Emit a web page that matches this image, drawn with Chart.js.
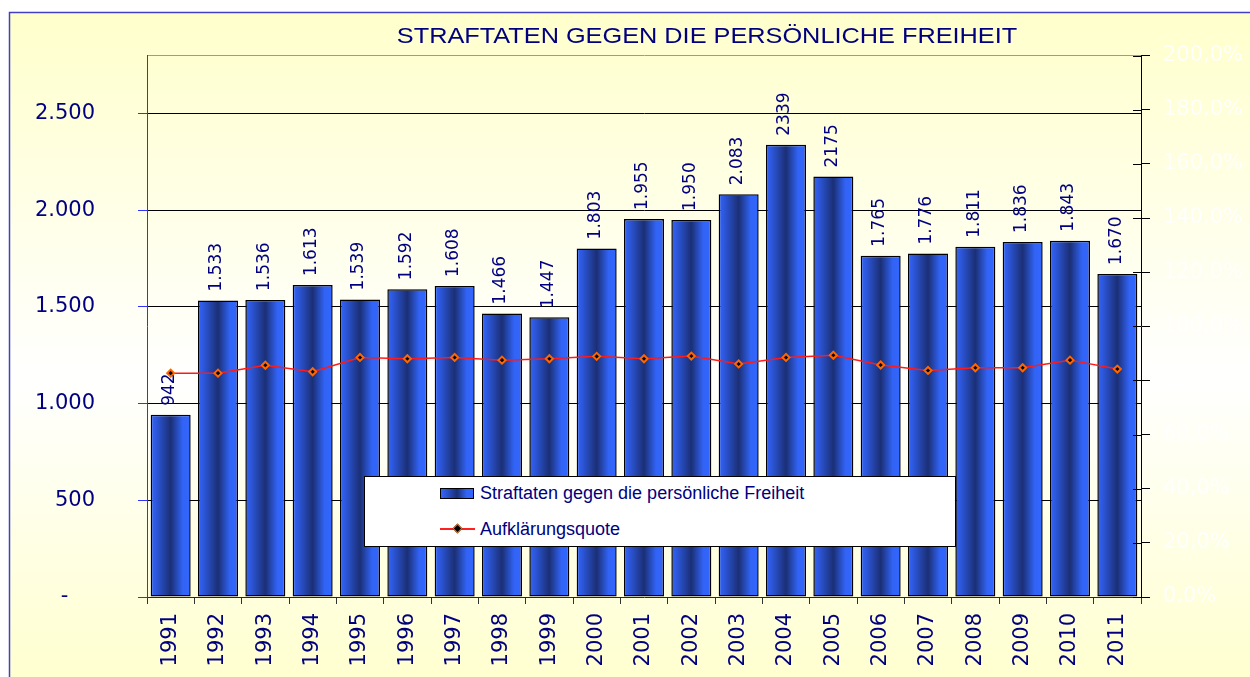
<!DOCTYPE html>
<html>
<head>
<meta charset="utf-8">
<script src="https://cdn.jsdelivr.net/npm/chart.js@4/dist/chart.umd.min.js"></script>
<style>
  body { margin: 0; background: #fff; }
  #wrap { position: relative; width: 1250px; height: 677px; overflow: hidden; }
  #legend {
    position: absolute; left: 364px; top: 476px; width: 590px; height: 69px;
    background: #fff; border: 1px solid #000;
    font-family: "Liberation Sans", Arial, sans-serif; font-size: 18px; color: #000080;
  }
  .item { position: absolute; left: 75px; height: 20px; display: flex; align-items: center; }
  .sw { width: 32px; height: 9px; border: 1px solid #000; margin-right: 6px;
    background: linear-gradient(to right, #3366ff 0%, #2c56d8 15%, #1b2f75 50%, #3163f5 80%, #3366ff 100%); }
  .ln { position: relative; width: 35px; height: 2px; background: #ff2020; margin-right: 5px; }
  .ln i { position: absolute; left: 14px; top: -3px; width: 5px; height: 5px; background: #000;
    border: 1.5px solid #ff6600; transform: rotate(45deg); }
</style>
</head>
<body>
<div id="wrap">
  <canvas id="c" width="1250" height="677"></canvas>
  <div id="legend"></div>
</div>
<script>
const chartTitle = 'STRAFTATEN GEGEN DIE PERSÖNLICHE FREIHEIT';
const seriesNames = ['Straftaten gegen die persönliche Freiheit', 'Aufklärungsquote'];
const years = ['1991','1992','1993','1994','1995','1996','1997','1998','1999','2000',
  '2001','2002','2003','2004','2005','2006','2007','2008','2009','2010','2011'];
const straftaten = [942,1533,1536,1613,1539,1592,1608,1466,1447,1803,
  1955,1950,2083,2339,2175,1765,1776,1811,1836,1843,1670];
const barLabels = ['942','1.533','1.536','1.613','1.539','1.592','1.608','1.466','1.447','1.803',
  '1.955','1.950','2.083','2339','2175','1.765','1.776','1.811','1.836','1.843','1.670'];
const quote = [82.7,82.7,85.6,83.2,88.5,88.0,88.5,87.5,88.0,88.9,
  88.0,89.0,86.1,88.5,89.3,85.7,83.7,84.7,84.7,87.5,84.2];
const leftTicks = [0, 500, 1000, 1500, 2000, 2500, 2800];
const leftTickLabels = ['-    ', '500', '1.000', '1.500', '2.000', '2.500', ''];

const navy = '#000080';
const tickFont = { family: 'DejaVu Sans', size: 21 };

function barGrad(c) {
  const chart = c.chart;
  const x = chart.scales.x;
  if (!chart.chartArea || !x) return '#2c56d8';
  const cx = x.getPixelForValue(c.dataIndex);
  const w = (chart.chartArea.width / years.length) * 0.845;
  const g = chart.ctx.createLinearGradient(cx - w / 2, 0, cx + w / 2, 0);
  g.addColorStop(0, '#3366ff');
  g.addColorStop(0.15, '#2c56d8');
  g.addColorStop(0.5, '#1b2f75');
  g.addColorStop(0.8, '#3163f5');
  g.addColorStop(1, '#3366ff');
  return g;
}

const backdrop = {
  id: 'backdrop',
  beforeDraw(chart) {
    const ctx = chart.ctx;
    ctx.save();
    ctx.fillStyle = '#fff';
    ctx.fillRect(0, 0, chart.width, chart.height);
    const g = ctx.createLinearGradient(0, 12, 0, chart.height);
    g.addColorStop(0, '#ffffcc');
    g.addColorStop(0.55, '#ffffff');
    g.addColorStop(1, '#ffffd0');
    ctx.fillStyle = g;
    ctx.fillRect(9, 12, chart.width, chart.height);
    ctx.strokeStyle = '#4040c0';
    ctx.lineWidth = 1.5;
    ctx.strokeRect(9.5, 12.5, chart.width + 20, chart.height + 20);
    // title, widened like the original slide
    ctx.fillStyle = navy;
    ctx.font = '22px "Liberation Sans"';
    ctx.textAlign = 'center';
    ctx.textBaseline = 'middle';
    ctx.translate(707, 37);
    ctx.scale(1.15, 1);
    ctx.fillText(chartTitle, 0, 0);
    ctx.restore();
  },
  afterDraw(chart) {
    // inner half of the right axis tick marks
    const ctx = chart.ctx, s = chart.scales.y1;
    ctx.save();
    ctx.strokeStyle = '#000';
    ctx.lineWidth = 1;
    s.ticks.forEach(t => {
      const y = Math.round(s.getPixelForValue(t.value)) + 0.5;
      ctx.beginPath();
      ctx.moveTo(s.left - 8, y);
      ctx.lineTo(s.left, y);
      ctx.stroke();
    });
    ctx.restore();
  }
};

const valueLabels = {
  id: 'valueLabels',
  afterDatasetsDraw(chart) {
    const ctx = chart.ctx;
    const meta = chart.getDatasetMeta(1);
    ctx.save();
    ctx.fillStyle = navy;
    ctx.font = '17px "DejaVu Sans"';
    ctx.textAlign = 'left';
    ctx.textBaseline = 'middle';
    meta.data.forEach((el, i) => {
      ctx.save();
      ctx.translate(el.x - 1, el.y - 9);
      ctx.rotate(-Math.PI / 2);
      ctx.fillText(barLabels[i], 0, 0);
      ctx.restore();
    });
    ctx.restore();
  }
};

const chart = new Chart(document.getElementById('c'), {
  data: {
    labels: years,
    datasets: [{
      type: 'line',
      label: seriesNames[1],
      data: quote,
      yAxisID: 'y1',
      order: 0,
      borderColor: '#ff1a1a',
      borderWidth: 1.5,
      tension: 0,
      pointStyle: 'rectRot',
      pointRadius: 3.5,
      pointBackgroundColor: '#000',
      pointBorderColor: '#ff6600',
      pointBorderWidth: 2
    }, {
      type: 'bar',
      label: seriesNames[0],
      data: straftaten,
      yAxisID: 'y',
      order: 1,
      backgroundColor: barGrad,
      borderColor: '#000',
      borderWidth: 1.5,
      borderSkipped: false,
      barPercentage: 0.845,
      categoryPercentage: 1
    }]
  },
  options: {
    responsive: false,
    animation: false,
    layout: { padding: { top: 53, left: 0, right: 0, bottom: 0 } },
    plugins: { legend: { display: false }, tooltip: { enabled: false } },
    scales: {
      x: {
        grid: { drawOnChartArea: false, offset: true, tickLength: 7, color: '#333' },
        border: { color: '#202060', width: 1 },
        ticks: { color: navy, font: tickFont, minRotation: 90, maxRotation: 90, padding: 9, autoSkip: false },
        afterFit(s) { s.height = 80; }
      },
      y: {
        position: 'left',
        min: 0, max: 2800,
        afterBuildTicks(s) { s.ticks = leftTicks.map(v => ({ value: v })); },
        grid: {
          color: c => c.tick.value === 2800 ? '#9a9a9a' : (c.tick.value === 0 ? 'rgba(0,0,0,0)' : '#000'),
          tickColor: c => c.tick.value === 2800 ? 'rgba(0,0,0,0)' : '#3030ff',
          tickLength: 9
        },
        border: { color: '#3030ff', width: 1 },
        ticks: { color: navy, font: tickFont, padding: 43, autoSkip: false,
          callback: (v, i) => leftTickLabels[leftTicks.indexOf(v)] ?? '' },
        afterFit(s) { s.width = 147; }
      },
      y1: {
        position: 'right',
        min: 0, max: 200,
        grid: { drawOnChartArea: false, color: '#000', tickLength: 9 },
        border: { color: '#000', width: 1 },
        ticks: { stepSize: 20, color: 'rgba(255,255,255,0.9)', font: tickFont, padding: 13,
          callback: v => v.toFixed(1).replace('.', ',') + '%' },
        afterFit(s) { s.width = 109; }
      }
    }
  },
  plugins: [backdrop, valueLabels]
});

document.getElementById('legend').innerHTML =
  '<div class="item" style="top:6px"><span class="sw"></span>' + seriesNames[0] + '</div>' +
  '<div class="item" style="top:42px"><span class="ln"><i></i></span>' + seriesNames[1] + '</div>';
</script>
</body>
</html>
